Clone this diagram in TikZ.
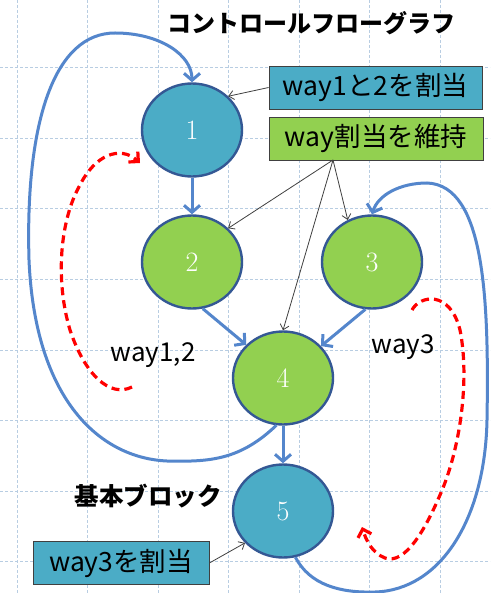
\documentclass[tikz,border=0pt]{standalone}
\usepackage{fontspec}
\setmainfont{Noto Sans CJK JP}
\newfontfamily\numfont{Latin Modern Roman}
\usetikzlibrary{arrows.meta, shapes.geometric, positioning}

\definecolor{blkblue}{RGB}{75,172,198}
\definecolor{blkgreen}{RGB}{146,208,80}
\definecolor{blkedge}{RGB}{52,88,148}
\definecolor{flowblue}{RGB}{84,134,204}
\definecolor{gridblue}{RGB}{184,205,226}

\begin{document}
\begin{tikzpicture}[x=1pt, y=-1pt,
    % basic block (ellipse)
    block/.style={
        ellipse,
        draw=blkedge,
        line width=2.4pt,
        minimum width=100pt,
        minimum height=93pt,
        inner sep=0pt,
        text=white,
        font=\numfont\fontsize{28}{28}\selectfont
    },
    % annotation box
    note/.style={
        rectangle,
        draw=black!75,
        line width=0.8pt,
        inner sep=0pt,
        minimum height=43pt,
        font=\fontsize{26.5}{26.5}\selectfont
    },
    flow/.style={
        -{Straight Barb[length=7pt, width=16pt]},
        line width=3pt,
        flowblue
    },
    pointer/.style={
        -{Straight Barb[length=5pt, width=9pt]},
        line width=0.8pt,
        black!75
    },
    way/.style={
        -{Straight Barb[length=7pt, width=14pt]},
        line width=3.2pt,
        red,
        dash pattern=on 8pt off 5pt
    },
    label/.style={
        font=\fontsize{24}{24}\selectfont
    }
]

\useasboundingbox (0,0) rectangle (490,593);
\fill[white] (0,0) rectangle (490,593);

% === Grid ===
\foreach \gx in {0,...,6}
    \draw[gridblue, line width=1pt, dash pattern=on 3pt off 2pt]
        (17+70.5*\gx,0) -- (17+70.5*\gx,593);
\foreach \gy in {0,...,7}
    \draw[gridblue, line width=1pt, dash pattern=on 3pt off 2pt]
        (0,68+70.5*\gy) -- (490,68+70.5*\gy);

% === Basic blocks ===
\node[block, fill=blkblue]  (blk1) at (192,130) {1};
\node[block, fill=blkgreen] (blk2) at (192,262) {2};
\node[block, fill=blkgreen] (blk3) at (372,262) {3};
\node[block, fill=blkgreen] (blk4) at (283,378) {4};
\node[block, fill=blkblue]  (blk5) at (283,511) {5};

% === Labels ===
\node[label, font=\bfseries\fontsize{24}{24}\selectfont] (title) at (311,23) {コントロールフローグラフ};
\node[label, font=\bfseries\fontsize{24.5}{24.5}\selectfont] (bbname) at (148,496) {基本ブロック};
\node[label, font=\fontsize{26}{26}\selectfont] (way12) at (153,355) {way1,2};
\node[label, font=\fontsize{26}{26}\selectfont] (way3) at (403,347) {way3};

% === Annotation boxes ===
\node[note, fill=blkblue, minimum width=213pt]  (assign12) at (375.5,87.5) {way1と2を割当};
\node[note, fill=blkgreen, minimum width=214pt] (keepway) at (376,138.5) {way割当を維持};
\node[note, fill=blkblue, minimum width=176pt]  (assign3) at (121,563) {way3を割当};
\coordinate (fan) at (333,160);

% === Control flow ===
\draw[flow] (blk1.south) -- (blk2.north);
\draw[flow] (blk2.283) -- (blk4.138);
\draw[flow] (blk3.262) -- (blk4.40);
\draw[flow] (blk4.south) -- (blk5.north);

% back edge 4 -> 1
\draw[flow] (blk4.262) .. controls (240,460) and (210,462) .. (167,461)
    .. controls (100,458) and (35,400) .. (29,260)
    .. controls (25,120) and (55,33) .. (115,33)
    .. controls (160,33) and (192,55) .. (blk1.north);

% back edge 5 -> 3
\draw[flow] (blk5.285) .. controls (310,585) and (340,593) .. (375,592)
    .. controls (440,590) and (485,520) .. (487,420)
    .. controls (489,300) and (485,185) .. (427,183)
    .. controls (400,183) and (378,195) .. (blk3.north);

% === Pointers from boxes ===
\draw[pointer] (assign12.west) -- (blk1.north east);
\draw[pointer] (fan) -- (blk2.north east);
\draw[pointer] (fan) -- (blk3.120);
\draw[pointer] (fan) -- (blk4.north);
\draw[pointer] (assign3.east) -- (blk5.220);

% === Way ranges ===
\draw[way] (132,387) .. controls (110,398) and (85,375) .. (70,330)
    .. controls (55,280) and (60,220) .. (80,185)
    .. controls (95,155) and (120,145) .. (140,163);
\draw[way] (412,310) .. controls (420,295) and (450,290) .. (460,330)
    .. controls (470,380) and (460,450) .. (440,495)
    .. controls (425,530) and (405,565) .. (385,558)
    .. controls (372,553) and (366,540) .. (362,527);

\end{tikzpicture}
\end{document}
